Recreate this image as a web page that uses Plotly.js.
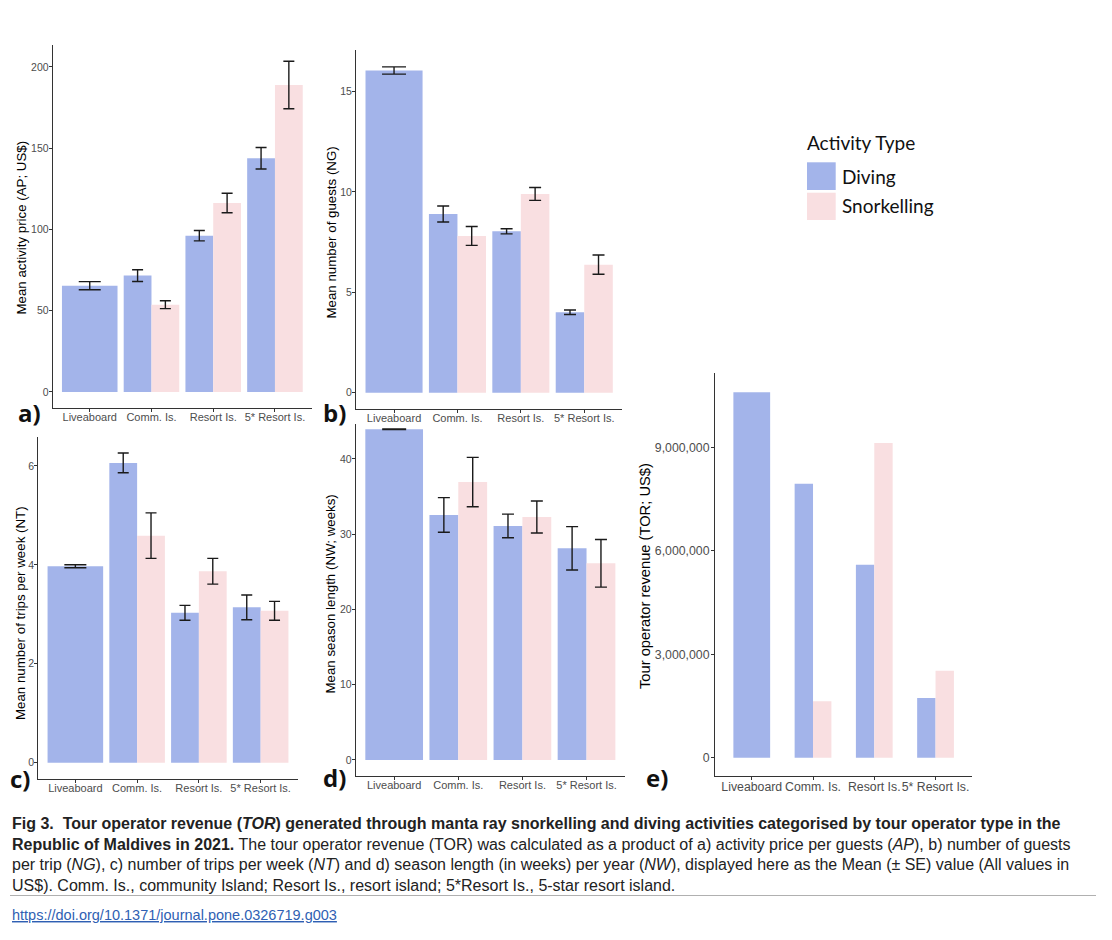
<!DOCTYPE html>
<html><head><meta charset="utf-8">
<script src="https://cdn.plot.ly/plotly-3.0.1.min.js"></script>
<style>body{margin:0;background:#fff}</style>
</head><body><div id="chart" style="width:1112px;height:940px"></div>
<script>
// ---------- data ----------
const categories = ['Liveaboard', 'Comm. Is.', 'Resort Is.', '5* Resort Is.'];
const seriesNames = ['Diving', 'Snorkelling'];

// a) mean activity price (US$) ± SE
const priceDiving = [65.4, 71.6, 96.2, 143.8];
const priceDivingSE = [2.5, 3.6, 3.2, 6.6];
const priceSnork = [null, 53.7, 116.3, 188.9];
const priceSnorkSE = [null, 2.4, 6.0, 14.6];

// b) mean number of guests ± SE
const guestsDiving = [16.05, 8.90, 8.04, 4.01];
const guestsDivingSE = [0.18, 0.40, 0.13, 0.11];
const guestsSnork = [null, 7.81, 9.90, 6.38];
const guestsSnorkSE = [null, 0.47, 0.32, 0.48];

// c) mean number of trips per week ± SE
const tripsDiving = [3.97, 6.06, 3.03, 3.14];
const tripsDivingSE = [0.03, 0.20, 0.15, 0.25];
const tripsSnork = [null, 4.59, 3.87, 3.07];
const tripsSnorkSE = [null, 0.46, 0.26, 0.19];

// d) mean season length (weeks) ± SE
const seasonDiving = [43.95, 32.56, 31.1, 28.13];
const seasonDivingSE = [0.05, 2.30, 1.57, 2.88];
const seasonSnork = [null, 36.94, 32.29, 26.14];
const seasonSnorkSE = [null, 3.28, 2.13, 3.17];

// e) tour operator revenue (US$)
const revenueDiving = [10600000, 7950000, 5600000, 1730000];
const revenueSnork = [null, 1640000, 9130000, 2520000];

// tick values
const priceTicks = [0, 50, 100, 150, 200];
const guestsTicks = [0, 5, 10, 15];
const tripsTicks = [0, 2, 4, 6];
const seasonTicks = [0, 10, 20, 30, 40];
const revenueTicks = [0, 3000000, 6000000, 9000000];

// ---------- styling ----------
const W = 1112, H = 940;
const DIV_COLOR = '#a3b4ea';
const SNK_COLOR = '#f9dfe1';
const ERR_COLOR = '#1a1a1a';
const FONT = 'Liberation Sans, Arial, Helvetica, sans-serif';
const px = v => v / W;
const py = v => 1 - v / H;

function barTraces(n, dv, dvSE, sv, svSE, groupW, cap) {
  const xa = n === 1 ? 'x' : 'x' + n;
  const ya = n === 1 ? 'y' : 'y' + n;
  const err = (arr, w) => arr ? {type: 'data', array: arr, visible: true, color: ERR_COLOR, thickness: 1.4, width: w} : {visible: false};
  const common = {type: 'bar', xaxis: xa, yaxis: ya, showlegend: false, hoverinfo: 'x+y'};
  return [
    Object.assign({}, common, {
      name: seriesNames[0], x: categories.slice(0, 1), y: dv.slice(0, 1),
      width: groupW, offset: -groupW / 2,
      marker: {color: DIV_COLOR, line: {width: 0}},
      error_y: err(dvSE ? dvSE.slice(0, 1) : null, cap * 2)
    }),
    Object.assign({}, common, {
      name: seriesNames[0], x: categories.slice(1), y: dv.slice(1),
      width: groupW / 2, offset: -groupW / 2,
      marker: {color: DIV_COLOR, line: {width: 0}},
      error_y: err(dvSE ? dvSE.slice(1) : null, cap)
    }),
    Object.assign({}, common, {
      name: seriesNames[1], x: categories.slice(1), y: sv.slice(1),
      width: groupW / 2, offset: 0,
      marker: {color: SNK_COLOR, line: {width: 0}},
      error_y: err(svSE ? svSE.slice(1) : null, cap)
    })
  ];
}

const data = [].concat(
  barTraces(1, priceDiving, priceDivingSE, priceSnork, priceSnorkSE, 0.9, 5.5),
  barTraces(2, guestsDiving, guestsDivingSE, guestsSnork, guestsSnorkSE, 0.9, 6),
  barTraces(3, tripsDiving, tripsDivingSE, tripsSnork, tripsSnorkSE, 0.9, 5.5),
  barTraces(4, seasonDiving, seasonDivingSE, seasonSnork, seasonSnorkSE, 0.9, 6),
  barTraces(5, revenueDiving, null, revenueSnork, null, 0.6, 0)
);

function xax(l, r, anchor, size) {
  return {
    domain: [px(l), px(r)], anchor: anchor, type: 'category', range: [-0.6, 3.6],
    showline: true, linecolor: '#333', linewidth: 1, ticks: 'outside', ticklen: 3,
    tickcolor: '#333', tickwidth: 1, tickangle: 0, ticklabelstandoff: -4,
    tickfont: {family: FONT, size: size, color: '#4d4d4d'},
    showgrid: false, zeroline: false, fixedrange: true
  };
}
function yax(top, bottom, anchor, range, ticks, size, fmt, standoff) {
  return {
    domain: [py(bottom), py(top)], anchor: anchor, range: range,
    tickmode: 'array', tickvals: ticks, tickformat: fmt || '',
    showline: true, linecolor: '#333', linewidth: 1, ticks: 'outside', ticklen: 3,
    tickcolor: '#333', tickwidth: 1, ticklabelstandoff: standoff,
    tickfont: {family: FONT, size: size, color: '#4d4d4d'},
    showgrid: false, zeroline: false, fixedrange: true
  };
}

function ann(text, x, y, opts) {
  return Object.assign({
    text: text, x: px(x), y: py(y), xref: 'paper', yref: 'paper',
    showarrow: false, xanchor: 'center', yanchor: 'middle',
    font: {family: FONT, size: 13.3, color: '#000'}
  }, opts || {});
}

const axisTitleFont = {family: FONT, size: 13.3, color: '#000'};
const letterFont = {family: 'Open Sans, sans-serif', size: 24, color: '#111', weight: 700};
const legendFont = {family: 'Lato, sans-serif', size: 19, color: '#111'};
const capFont = {family: FONT, size: 16, color: '#222'};

const annotations = [
  // axis titles
  ann('Mean activity price (AP; US$)', 20.5, 228, {textangle: -90, font: axisTitleFont}),
  ann('Mean number of guests (NG)', 331, 232.5, {textangle: -90, font: axisTitleFont}),
  ann('Mean number of trips per week (NT)', 20, 613, {textangle: -90, font: axisTitleFont}),
  ann('Mean season length (NW; weeks)', 329.5, 594, {textangle: -90, font: axisTitleFont}),
  ann('Tour operator revenue (TOR; US$)', 645, 576, {textangle: -90, font: {family: FONT, size: 14.7, color: '#000'}}),
  // panel letters
  ann('a)', 29.5, 412, {font: letterFont}),
  ann('b)', 334, 412, {font: letterFont}),
  ann('c)', 19.5, 778.5, {font: letterFont}),
  ann('d)', 334.5, 777, {font: letterFont}),
  ann('e)', 657, 777, {font: letterFont}),
  // legend
  ann('Activity Type', 805, 143, {xanchor: 'left', font: legendFont}),
  ann(seriesNames[0], 840, 176, {xanchor: 'left', font: legendFont}),
  ann(seriesNames[1], 840, 205, {xanchor: 'left', font: legendFont}),
  // caption
  ann('<b>Fig 3.  Tour operator revenue (<i>TOR</i>) generated through manta ray snorkelling and diving activities categorised by tour operator type in the</b>', 10, 823, {xanchor: 'left', font: capFont}),
  ann('<b>Republic of Maldives in 2021.</b> The tour operator revenue (TOR) was calculated as a product of a) activity price per guests (<i>AP</i>), b) number of guests', 10, 844, {xanchor: 'left', font: capFont}),
  ann('per trip (<i>NG</i>), c) number of trips per week (<i>NT</i>) and d) season length (in weeks) per year (<i>NW</i>), displayed here as the Mean (± SE) value (All values in', 10, 864.5, {xanchor: 'left', font: capFont}),
  ann('US$). Comm. Is., community Island; Resort Is., resort island; 5*Resort Is., 5-star resort island.', 10, 885, {xanchor: 'left', font: capFont}),
  ann('<u>https://doi.org/10.1371/journal.pone.0326719.g003</u>', 10, 915, {xanchor: 'left', font: {family: FONT, size: 14.5, color: '#2f5fb3'}})
];

const shapes = [
  {type: 'rect', xref: 'paper', yref: 'paper', x0: px(807), x1: px(835.7), y0: py(190), y1: py(162.3), fillcolor: DIV_COLOR, line: {width: 0}},
  {type: 'rect', xref: 'paper', yref: 'paper', x0: px(807), x1: px(835.7), y0: py(220), y1: py(192.7), fillcolor: SNK_COLOR, line: {width: 0}},
  {type: 'line', xref: 'paper', yref: 'paper', x0: px(10), x1: px(1096), y0: py(895.5), y1: py(895.5), line: {color: '#b0b0b0', width: 1}}
];

const layout = {
  width: W, height: H, margin: {l: 0, r: 0, t: 0, b: 0, pad: 0},
  barmode: 'overlay', showlegend: false,
  paper_bgcolor: '#fff', plot_bgcolor: 'rgba(0,0,0,0)',
  font: {family: FONT, color: '#4d4d4d'},
  xaxis: xax(52.7, 312, 'y', 11),
  yaxis: yax(45, 408, 'x', [-9.85, 213.5], priceTicks, 10.5, '', -2),
  xaxis2: xax(356, 622.3, 'y2', 11),
  yaxis2: yax(50, 409, 'x2', [-0.81, 17.07], guestsTicks, 10.5, '', -2),
  xaxis3: xax(38.3, 297.7, 'y3', 11),
  yaxis3: yax(436.7, 779, 'x3', [-0.33, 6.59], tripsTicks, 10.5, '', -2),
  xaxis4: xax(355.7, 625, 'y4', 11),
  yaxis4: yax(424, 776, 'x4', [-2.13, 44.65], seasonTicks, 10.5, '', -2),
  xaxis5: xax(715, 972.3, 'y5', 12.3),
  yaxis5: yax(373.3, 776, 'x5', [-530000, 11150000], revenueTicks, 12.3, ',d', -1),
  annotations: annotations,
  shapes: shapes
};

Plotly.newPlot('chart', data, layout, {staticPlot: true, displayModeBar: false});
</script>
</body></html>
